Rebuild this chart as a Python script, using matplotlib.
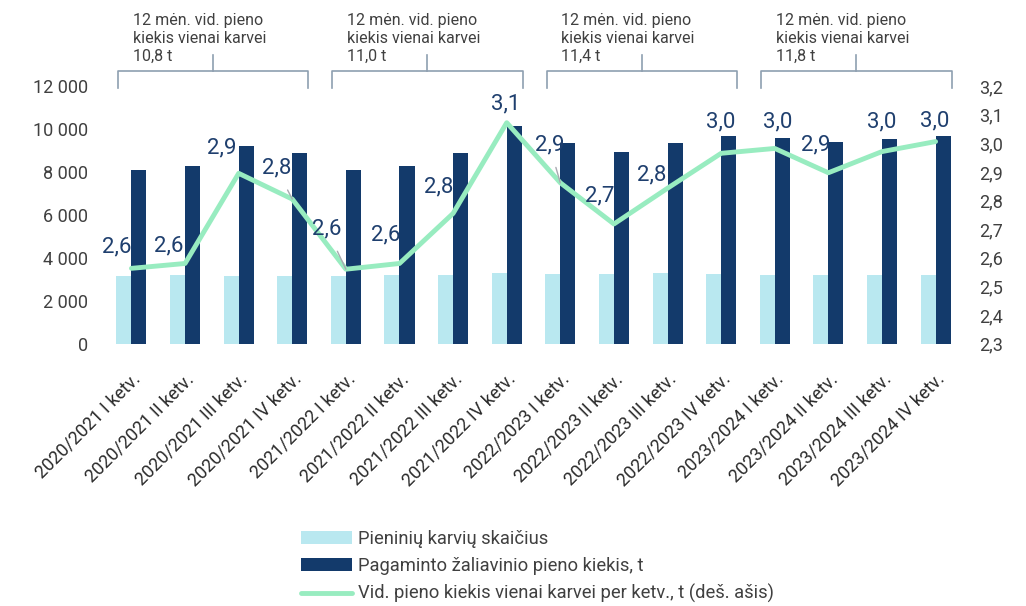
import matplotlib
matplotlib.use("Agg")
from matplotlib import pyplot as plt
import matplotlib.transforms as mtransforms
import numpy as np

plt.rcParams['font.family'] = ['Roboto', 'DejaVu Sans']

# data
quarters = ["2020/2021 I ketv.", "2020/2021 II ketv.", "2020/2021 III ketv.", "2020/2021 IV ketv.",
            "2021/2022 I ketv.", "2021/2022 II ketv.", "2021/2022 III ketv.", "2021/2022 IV ketv.",
            "2022/2023 I ketv.", "2022/2023 II ketv.", "2022/2023 III ketv.", "2022/2023 IV ketv.",
            "2023/2024 I ketv.", "2023/2024 II ketv.", "2023/2024 III ketv.", "2023/2024 IV ketv."]
cows = [3150, 3200, 3160, 3150, 3150, 3200, 3200, 3280,
        3250, 3250, 3270, 3240, 3210, 3210, 3210, 3210]
milk = [8110, 8290, 9190, 8900, 8110, 8290, 8900, 10120,
        9360, 8920, 9340, 9660, 9580, 9380, 9520, 9670]
per_cow = [2.563, 2.580, 2.895, 2.805, 2.560, 2.580, 2.755, 3.072,
           2.862, 2.718, 2.843, 2.965, 2.982, 2.897, 2.971, 3.006]
year_totals = ["10,8 t", "11,0 t", "11,4 t", "11,8 t"]

# label offsets in pixels (x, y up)
label_off = [(-15, 21), (-16, 18), (-17, 25), (-16, 31), (-19, 40), (-14, 29), (-14, 26), (-1, 19),
             (-11, 38), (-14, 28), (-16, 13), (0, 31), (3, 26), (-13, 28), (0, 30), (-1, 21)]
leaders = [3, 4, 8]

c_light = '#B9E8F0'
c_dark = '#133A6B'
c_line = '#98ECC0'
c_text = '#404040'
c_lab = '#1F3F6E'
c_brk = '#8E9FB0'

fig = plt.figure(figsize=(10.26, 6.06), dpi=100)
ax = fig.add_axes([0.102, 0.433, 0.836, 0.425])
ax2 = ax.twinx()

x = np.arange(len(quarters))
w = 0.28
ax.bar(x - w / 2, cows, w, color=c_light, label='Pieninių karvių skaičius')
ax.bar(x + w / 2, milk, w, color=c_dark, label='Pagaminto žaliavinio pieno kiekis, t')
ax2.plot(x, per_cow, color=c_line, lw=3.5, solid_capstyle='round',
         label='Vid. pieno kiekis vienai karvei per ketv., t (deš. ašis)')

ax.set_xlim(-0.5, len(quarters) - 0.5)
ax.set_ylim(0, 12000)
ax.set_yticks(np.arange(0, 12001, 2000))
ax.set_yticklabels([f"{v:,}".replace(",", " ") for v in range(0, 12001, 2000)])
ax2.set_ylim(2.3, 3.2)
ax2.set_yticks(np.arange(2.3, 3.21, 0.1))
ax2.set_yticklabels([f"{v:.1f}".replace(".", ",") for v in np.arange(2.3, 3.21, 0.1)])

ax.set_xticks(x)
ax.set_xticklabels(quarters, rotation=45, ha='right', rotation_mode='anchor')

for a in (ax, ax2):
    for s in a.spines.values():
        s.set_visible(False)
    a.tick_params(length=0, labelsize=13, labelcolor=c_text)
ax.tick_params(axis='x', pad=19, labelcolor='#2A2A2A')
ax.tick_params(axis='y', pad=12)
ax2.tick_params(axis='y', pad=12)

# data labels on the line
for i, v in enumerate(per_cow):
    txt = f"{v:.1f}".replace(".", ",")
    props = None
    if i in leaders:
        props = dict(arrowstyle='-', color='#A8A8B0', lw=1, shrinkA=7, shrinkB=0)
    ax2.annotate(txt, (x[i], v), xytext=label_off[i], textcoords='offset pixels',
                 ha='center', va='center', fontsize=16, color=c_lab, arrowprops=props)

# brackets with yearly totals
tr = mtransforms.blended_transform_factory(ax.transData, ax.transAxes)
for k, tot in enumerate(year_totals):
    x0 = 4 * k - 0.25
    x1 = 4 * k + 3.3
    xm = 4 * k + 1.52
    ax.plot([x0, x0, x1, x1], [0.992, 1.058, 1.058, 0.992], color=c_brk, lw=1.2,
            transform=tr, clip_on=False)
    ax.plot([xm, xm], [1.058, 1.12], color=c_brk, lw=1.2, transform=tr, clip_on=False)
    ax.text(4 * k + 0.02, 1.283, "12 mėn. vid. pieno\nkiekis vienai karvei\n" + tot,
            transform=tr, ha='left', va='top', fontsize=11.5, color=c_text, linespacing=1.22)

h1, l1 = ax.get_legend_handles_labels()
h2, l2 = ax2.get_legend_handles_labels()
fig.legend(h1 + h2, l1 + l2, loc='upper left', bbox_to_anchor=(0.286, 0.138),
           frameon=False, fontsize=13.2, handlelength=2.8, handletextpad=0.3,
           labelspacing=0.5, borderaxespad=0, labelcolor=c_text)

plt.savefig("out.png", dpi=100)
